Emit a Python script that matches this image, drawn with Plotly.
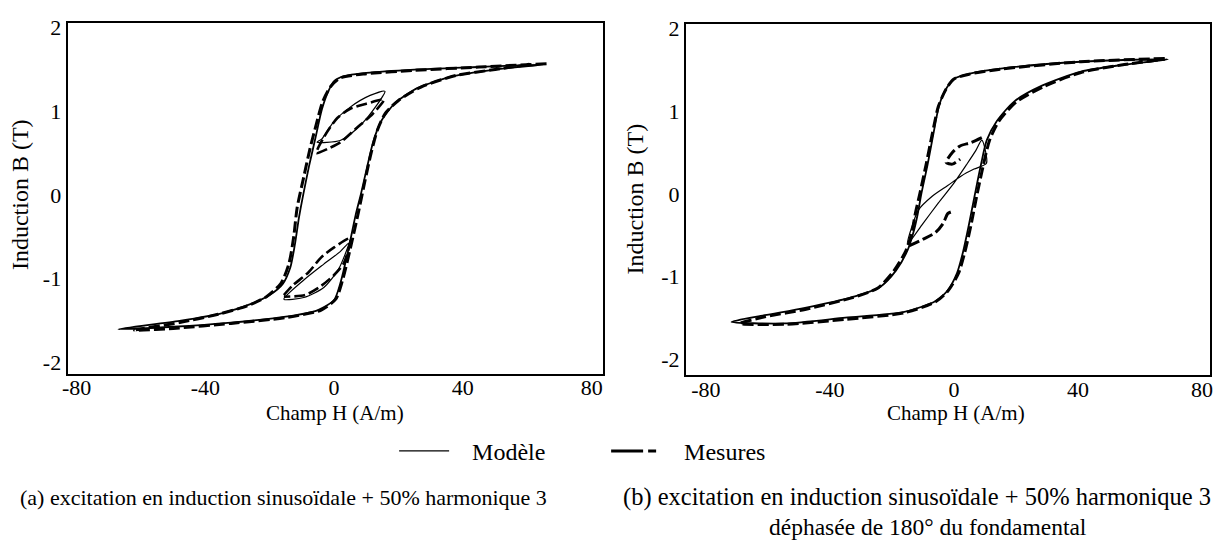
import plotly.graph_objects as go

# ---- (a) induction sinusoïdale + 50% harmonique 3 ----
# cycle majeur, modèle (branche descendante puis montante)
A_MOD_H = [65, 45, 25, 10, 3, 0, -2, -3.8, -5.8, -7.8, -9.6, -10.9, -12.2, -13.6, -16, -20, -26, -35, -48, -67,
           -50, -32, -15, -5, 0, 2, 4.3, 6.7, 8.4, 10.3, 12.2, 14.6, 19, 26, 37, 50, 65]
A_MOD_B = [1.56, 1.53, 1.50, 1.46, 1.42, 1.36, 1.22, 1.02, 0.68, 0.34, 0.0, -0.27, -0.60, -0.87, -1.07, -1.20, -1.31, -1.42, -1.51, -1.61,
           -1.58, -1.53, -1.46, -1.38, -1.26, -1.05, -0.68, -0.24, 0.02, 0.34, 0.64, 0.88, 1.10, 1.28, 1.42, 1.50, 1.56]
# cycle majeur, mesures
A_MES_H = [66, 45, 25, 10, 2, -1, -3.5, -5.5, -7.5, -9.5, -11.5, -12.5, -14, -16.5, -21, -27, -36, -48, -62,
           -50, -32, -15, -4, 0.5, 2.5, 5, 7.5, 9.5, 11.5, 13.5, 16, 20, 27, 38, 50, 62]
A_MES_B = [1.57, 1.53, 1.49, 1.45, 1.40, 1.30, 1.12, 0.85, 0.55, 0.2, -0.16, -0.49, -0.82, -1.06, -1.22, -1.33, -1.43, -1.53, -1.62,
           -1.60, -1.54, -1.47, -1.38, -1.25, -1.04, -0.65, -0.22, 0.15, 0.5, 0.78, 0.98, 1.13, 1.29, 1.43, 1.50, 1.57]
# cycles mineurs, modèle
A_MOD_HAUT_H = [-5.3, -3.8, -0.2, 5, 11.2, 15.8, 13.2, 8.1, 1.9, -5.3]
A_MOD_HAUT_B = [0.63, 0.67, 0.87, 1.05, 1.19, 1.24, 1.07, 0.83, 0.65, 0.63]
A_MOD_BAS_H = [-15.6, -9.4, -3.2, 1.9, 4.5, 1.4, -3.2, -9.4, -15.6]
A_MOD_BAS_B = [-1.25, -1.02, -0.83, -0.68, -0.58, -0.89, -1.11, -1.23, -1.25]
# cycles mineurs, mesures
A_MES_HAUT_H = [-5.5, -3, 1, 5, 10, 15.5, 12, 7, 2, -2, -5.5]
A_MES_HAUT_B = [0.5, 0.7, 0.92, 1.03, 1.09, 1.14, 0.97, 0.80, 0.63, 0.55, 0.5]
A_MES_BAS_H = [-15.6, -13, -8, -4, 0, 5, 3, 0, -4, -9, -15.6]
A_MES_BAS_B = [-1.20, -1.09, -0.93, -0.75, -0.63, -0.52, -0.82, -0.96, -1.09, -1.20, -1.22]

# ---- (b) idem, harmonique 3 déphasée de 180° ----
B_MOD_H = [69, 41, 15.7, 5.5, 0.4, -2.2, -4.7, -6.6, -8.5, -10.5, -11.7, -13, -14.9, -18.7, -23.9, -32.8, -48, -61, -71.7,
           -54.5, -35, -16, -6, -2.2, 1, 2.9, 4.8, 6.8, 8.7, 10.6, 13.8, 19.5, 28.4, 41, 54, 69]
B_MOD_B = [1.63, 1.60, 1.52, 1.46, 1.40, 1.29, 1.08, 0.73, 0.35, 0.0, -0.25, -0.46, -0.68, -0.93, -1.13, -1.25, -1.38, -1.47, -1.55,
           -1.57, -1.50, -1.43, -1.30, -1.18, -0.96, -0.71, -0.38, 0.0, 0.35, 0.65, 0.88, 1.12, 1.31, 1.48, 1.56, 1.63]
B_MES_H = [68, 41, 15, 5, 0, -2.5, -5, -7, -9, -11, -12.5, -13.5, -15.5, -19.5, -24.5, -33, -48, -61, -69,
           -54, -35, -16, -6, -2, 1.5, 3.5, 5.5, 7.5, 9.5, 11.5, 14.5, 20, 29, 41, 54, 68]
B_MES_B = [1.64, 1.60, 1.51, 1.45, 1.39, 1.27, 1.06, 0.72, 0.35, 0.0, -0.25, -0.46, -0.69, -0.94, -1.14, -1.26, -1.40, -1.49, -1.57,
           -1.58, -1.52, -1.44, -1.31, -1.18, -0.96, -0.71, -0.38, 0.0, 0.35, 0.65, 0.88, 1.11, 1.30, 1.47, 1.56, 1.63]
B_MOD_MIN_H = [-15, -10, -5, 0, 4, 7, 9, 10.5, 6.5, 2.5, -2, -7, -11.5, -15]
B_MOD_MIN_B = [-0.61, -0.36, -0.11, 0.13, 0.35, 0.52, 0.65, 0.37, 0.30, 0.22, 0.10, -0.03, -0.20, -0.61]
B_MES_HAUT_H = [9, 5.5, 2, -0.5, -2.5, -0.5, 2]
B_MES_HAUT_B = [0.68, 0.62, 0.58, 0.5, 0.38, 0.36, 0.42]
B_MES_BAS_H = [-14.5, -10, -6, -3.5, -2, -1]
B_MES_BAS_B = [-0.63, -0.55, -0.47, -0.36, -0.24, -0.22]

TICKS_H = [-80, -40, 0, 40, 80]
TICKS_H_TXT = ["-80", "-40", "0", "40", "80"]
TICKS_B = [-2, -1, 0, 1, 2]
TICKS_B_TXT = ["-2", "-1", "0", "1", "2"]

POLICE = "Liberation Serif, Times New Roman, serif"
W, H = 1223, 543


def courbe(x, y, xa, ya, mesure, epais=None):
    return go.Scatter(
        x=x, y=y, xaxis=xa, yaxis=ya, mode="lines", showlegend=False,
        line=dict(color="black", width=epais or (3 if mesure else 1.6),
                  dash="11px,4px" if mesure else "solid", shape="spline", smoothing=0.7),
        hoverinfo="skip",
    )


def texte(t, x, y, taille, angle=0, ancre="center"):
    return dict(text=t, x=x / W, y=1 - y / H, xref="paper", yref="paper",
                xanchor=ancre, yanchor="middle", textangle=angle, showarrow=False,
                font=dict(size=taille))


fig = go.Figure()

# mesures (tirets) puis modèle (trait plein)
fig.add_trace(courbe(A_MES_H, A_MES_B, "x", "y", True))
fig.add_trace(courbe(A_MES_HAUT_H, A_MES_HAUT_B, "x", "y", True, 2.6))
fig.add_trace(courbe(A_MES_BAS_H, A_MES_BAS_B, "x", "y", True, 2.6))
fig.add_trace(courbe(A_MOD_H, A_MOD_B, "x", "y", False, 1.8))
fig.add_trace(courbe(A_MOD_HAUT_H, A_MOD_HAUT_B, "x", "y", False, 1.2))
fig.add_trace(courbe(A_MOD_BAS_H, A_MOD_BAS_B, "x", "y", False, 1.2))

fig.add_trace(courbe(B_MES_H, B_MES_B, "x2", "y2", True))
fig.add_trace(courbe(B_MES_HAUT_H, B_MES_HAUT_B, "x2", "y2", True, 3))
fig.add_trace(courbe(B_MES_BAS_H, B_MES_BAS_B, "x2", "y2", True, 3))
fig.add_trace(courbe(B_MOD_H, B_MOD_B, "x2", "y2", False, 1.8))
fig.add_trace(courbe(B_MOD_MIN_H, B_MOD_MIN_B, "x2", "y2", False, 1.2))

# entrées de légende
fig.add_trace(go.Scatter(x=[None], y=[None], mode="lines", name="\u00a0\u00a0\u00a0Modèle",
                         line=dict(color="black", width=1.2)))
fig.add_trace(go.Scatter(x=[None], y=[None], mode="lines", name="\u00a0\u00a0\u00a0Mesures",
                         line=dict(color="black", width=3, dash="32px,5px,8px,100px")))

axe = dict(
    showline=True, mirror=True, linecolor="black", linewidth=2,
    showgrid=False, zeroline=False, ticks="", ticklen=0,
    tickfont=dict(family=POLICE, size=22, color="black"),
)
axe_x = dict(axe, tickvals=TICKS_H, ticktext=TICKS_H_TXT, ticklabelstandoff=-7)
axe_y = dict(axe, tickvals=TICKS_B, ticktext=TICKS_B_TXT)

fig.update_layout(
    width=W, height=H,
    paper_bgcolor="white", plot_bgcolor="white",
    margin=dict(l=0, r=0, t=0, b=0),
    font=dict(family=POLICE, size=21, color="black"),
    xaxis=dict(axe_x, domain=[62 / W, 601 / W], range=[-82.8, 83.4], anchor="y"),
    yaxis=dict(axe_y, domain=[1 - 372 / H, 1 - 16 / H], range=[-2.14, 2.06], anchor="x"),
    xaxis2=dict(axe_x, domain=[685 / W, 1213 / W], range=[-86.4, 82.6], anchor="y2"),
    yaxis2=dict(axe_y, domain=[1 - 374 / H, 1 - 17 / H], range=[-2.2, 2.06], anchor="x2"),
    showlegend=True,
    legend=dict(
        orientation="h", x=391 / W, y=1 - 451 / H, xanchor="left", yanchor="middle",
        font=dict(family=POLICE, size=24), itemwidth=50, entrywidth=147,
        bgcolor="rgba(0,0,0,0)",
    ),
    annotations=[
        texte("Induction B (T)", 14, 190, 24, -90),
        texte("Induction B (T)", 634, 195, 24, -90),
        texte("Champ H (A/m)", 331, 412, 21),
        texte("Champ H (A/m)", 957, 412, 21),
        texte("(a) excitation en induction sinusoïdale + 50% harmonique 3", 12, 498, 22, ancre="left"),
        texte("(b) excitation en induction sinusoïdale + 50% harmonique 3", 918, 497, 24.5),
        texte("déphasée de 180° du fondamental", 929, 528, 23.5),
    ],
)

fig.write_html("out.html", config={"displayModeBar": False},
               post_script="document.body.style.margin='0';")
